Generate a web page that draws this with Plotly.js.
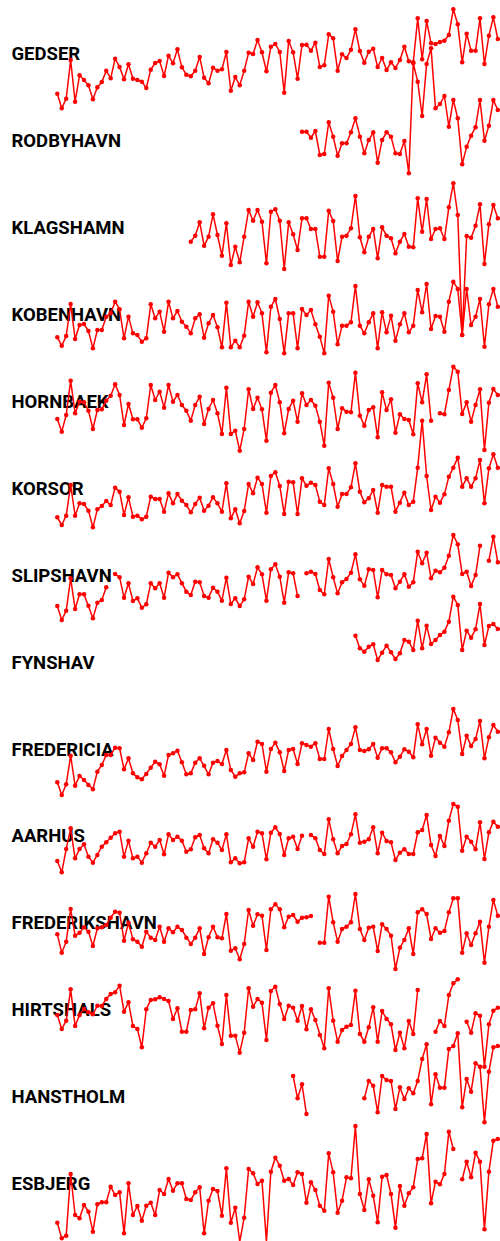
<!DOCTYPE html>
<html>
<head>
<meta charset="utf-8">
<script src="https://cdn.plot.ly/plotly-3.0.1.min.js"></script>
<style>html,body{margin:0;padding:0;background:#fff;}#chart{width:500px;height:1241px;}</style>
</head>
<body>
<div id="chart"></div>
<script>
// ---------- DATA (relative annual sea level, arbitrary units) ----------
const years = [1900,1901,1902,1903,1904,1905,1906,1907,1908,1909,
1910,1911,1912,1913,1914,1915,1916,1917,1918,1919,
1920,1921,1922,1923,1924,1925,1926,1927,1928,1929,
1930,1931,1932,1933,1934,1935,1936,1937,1938,1939,
1940,1941,1942,1943,1944,1945,1946,1947,1948,1949,
1950,1951,1952,1953,1954,1955,1956,1957,1958,1959,
1960,1961,1962,1963,1964,1965,1966,1967,1968,1969,
1970,1971,1972,1973,1974,1975,1976,1977,1978,1979,
1980,1981,1982,1983,1984,1985,1986,1987,1988,1989,
1990,1991,1992,1993,1994,1995,1996,1997,1998,1999];

const stations = ['GEDSER','RODBYHAVN','KLAGSHAMN','KOBENHAVN','HORNBAEK','KORSOR','SLIPSHAVN',
  'FYNSHAV','FREDERICIA','AARHUS','FREDERIKSHAVN','HIRTSHALS','HANSTHOLM','ESBJERG'];

const gedser = [-281,-325,-296,-180,-305,-226,-240,-256,-298,-262,
 -246,-212,-235,-176,-201,-238,-193,-236,-240,-245,
 -264,-209,-189,-183,-228,-167,-190,-148,-202,-224,
 -229,-212,-171,-233,-250,-203,-212,-208,-156,-272,
 -231,-256,-212,-158,-162,-120,-157,-214,-140,-132,
 -156,-278,-123,-157,-236,-135,-134,-152,-128,-201,
 -196,-103,-115,-212,-163,-174,-149,-88,-153,-188,
 -155,-146,-201,-174,-210,-187,-204,-180,-140,-184,
 -187,-55,-178,-63,-130,-132,-126,-122,-105,-28,
 -73,-187,-101,-152,-152,-55,-192,-107,-52,-117];

// from 1955
const rodbyhavn = [-395,-395,-413,-393,-465,
 -462,-367,-410,-467,-430,-430,-397,-355,-410,-460,
 -420,-397,-488,-420,-397,-410,-460,-462,-423,-520,
 -190,-245,-348,-192,-145,-325,-312,-288,-380,-300,
 -355,-493,-440,-407,-382,-300,-422,-377,-300,-330];

// from 1930
const klagshamn = [-200,-182,-142,-212,-185,-118,-180,-242,-145,-270,
 -215,-262,-185,-105,-137,-105,-140,-265,-110,-103,
 -137,-282,-142,-178,-225,-130,-130,-162,-162,-245,
 -245,-107,-138,-258,-185,-182,-160,-63,-187,-232,
 -185,-162,-250,-157,-182,-190,-235,-200,-177,-215,
 -217,-70,-170,-72,-192,-162,-160,-192,-97,-25,
 -120,-480,-183,-188,-152,-88,-267,-148,-90,-130];

const kobenhavn = [-487,-512,-483,-387,-492,-450,-447,-468,-520,-465,
 -465,-425,-415,-380,-403,-490,-425,-475,-480,-500,
 -490,-388,-430,-410,-470,-380,-430,-408,-440,-455,
 -475,-430,-418,-488,-445,-420,-457,-517,-383,-517,
 -497,-517,-482,-380,-425,-382,-415,-532,-395,-372,
 -432,-535,-415,-415,-520,-402,-420,-405,-448,-485,
 -535,-362,-410,-508,-452,-452,-442,-333,-452,-475,
 -442,-415,-520,-412,-472,-422,-497,-448,-415,-472,
 -452,-345,-412,-327,-462,-423,-425,-470,-380,-320,
 -342,-480,-342,-450,-425,-372,-515,-388,-342,-395];

const hornbaek = [-207,-245,-195,-92,-190,-155,-157,-182,-237,-180,
 -178,-152,-137,-103,-135,-225,-162,-208,-208,-233,
 -205,-105,-150,-125,-173,-105,-155,-135,-165,-182,
 -212,-165,-140,-222,-177,-150,-190,-252,-113,-252,
 -242,-302,-237,-118,-177,-143,-178,-272,-128,-105,
 -157,-250,-177,-152,-215,-130,-165,-150,-167,-215,
 -287,-98,-143,-237,-175,-185,-187,-68,-197,-227,
 -180,-172,-262,-127,-180,-148,-248,-193,-207,-210,
 -253,-100,-157,-73,-212,null,-190,-193,-120,-50,
 -65,-192,-157,-215,-165,-118,-300,-158,-117,-135];

const korsor = [-502,-525,-497,-405,-497,-460,-462,-482,-532,-478,
 -468,-453,-465,-413,-425,-495,-442,-500,-497,-508,
 -500,-440,-447,-447,-485,-430,-460,-432,-452,-465,
 -487,-462,-443,-482,-467,-442,-460,-485,-400,-505,
 -478,-520,-483,-402,-430,-383,-402,-488,-378,-367,
 -408,-492,-395,-397,-492,-385,-407,-398,-405,-455,
 -465,-355,-402,-470,-432,-432,-412,-340,-425,-457,
 -445,-420,-488,-405,-410,-410,-485,-458,-428,-465,
 -455,-353,-212,-378,-480,-440,-458,-433,-380,-353,
 -323,-410,-385,-410,-385,-330,-460,-355,-313,-353];

const slipshavn = [-243,-285,-257,-160,-252,-208,-208,-242,-280,-233,
 -225,-187,null,-147,-157,-218,-175,-228,-220,-248,
 -238,-175,-190,-175,-218,-143,-157,-148,-175,-200,
 -210,-170,-172,-213,-218,-188,-200,-227,-158,-237,
 -220,-243,-223,-155,-177,-127,-148,-227,-133,-118,
 -155,-233,-142,-145,-213,null,-145,-140,-147,-195,
 -208,-102,-157,-205,-172,-162,-143,-88,-163,-182,
 -133,-135,-217,-135,-148,-150,-190,-170,-148,-185,
 -172,-80,-115,-83,-160,-137,-142,-128,-92,-30,
 -58,-147,-140,-183,-150,-62,null,-107,-35,-112];

// from 1967
const fynshav = [-332,-370,-380,
 -365,-358,-405,-383,-362,-382,-402,-385,-345,-350,
 -375,-287,-370,-302,-357,-345,-330,-320,-290,-215,
 -240,-375,-317,-338,-313,-237,-360,-303,-297,-312];

const fredericia = [-247,-285,-253,-167,-257,-228,-240,-255,-268,-215,
 -195,-165,-165,-143,-145,-208,-175,-220,-232,-238,
 -222,-203,-185,-193,-227,-165,-160,-152,-187,-223,
 -220,-188,-175,-197,-223,-188,-183,-192,-150,-210,
 -230,-220,-217,-160,-180,-125,-132,-215,-147,-128,
 -157,-213,-150,-147,-192,-130,-135,-140,-130,-177,
 -177,-87,-147,-198,-168,-150,-132,-82,-150,-153,
 -148,-132,-173,-145,-145,-157,-187,-170,-148,-155,
 -172,-73,-133,-87,-167,-113,-128,-140,-97,-27,
 -60,-162,-107,-138,-117,-63,-175,-112,-75,-95];

const aarhus = [-483,-517,-447,-385,-475,-447,-433,-470,-488,-465,
 -440,-427,-413,-400,-395,-470,-422,-475,-470,-488,
 -460,-428,-440,-420,-463,-403,-420,-410,-422,-455,
 -448,-412,-405,-445,-460,-418,-428,-450,-403,-487,
 -475,-490,-487,-415,-440,-395,-400,-478,-398,-382,
 -402,-465,-415,-410,-447,-407,null,-405,-415,-450,
 -462,-358,-418,-460,-438,-432,-403,-343,-428,-425,
 -418,-382,-460,-398,-423,-427,-480,-458,-448,-462,
 -462,-397,-390,-345,-435,-468,-408,-438,-362,-312,
 -320,-452,-410,-425,-448,-367,-477,-397,-365,-380];

const frederikshavn = [-178,-233,-200,-102,-182,-173,-157,-170,-213,-160,
 -157,-150,-128,-110,-113,-197,-143,-193,-200,-215,
 -170,-188,-195,-155,-200,-160,-172,-155,-165,-188,
 -207,-188,-160,-237,-187,-155,-187,-190,-117,-227,
 -220,-253,-207,-105,-152,-118,-122,-225,-103,-88,
 -103,-157,-125,-120,-140,-128,-127,-123,null,-203,
 -203,-65,-142,-200,-162,-155,-142,-57,-162,-195,
 -158,-155,-228,-148,-162,-182,-282,-218,-195,-160,
 -237,-112,-103,-117,-192,-160,-173,-168,-112,-70,
 -70,-233,-175,-210,-175,-140,-263,-155,-75,-122];

const hirtshals = [-420,-462,-437,-343,-453,-420,-402,-412,-418,-392,
 -393,-372,-357,-352,-332,-410,-382,-453,-462,-517,
 -403,-375,-373,-367,-372,-378,-432,-400,-470,-470,
 -405,-403,-355,-460,-398,-385,-452,-507,-360,-482,
 -482,-533,-473,-340,-395,-372,-383,-495,-348,-335,
 -387,-432,-392,-398,-437,-393,-463,-403,-435,-480,
 -520,-340,-437,-500,-465,-455,-450,-347,-477,-500,
 -457,-397,-500,-408,-432,-448,-525,-473,-520,-438,
 -477,-345,null,null,null,-470,-438,-453,-360,-325,
 -313,null,-440,-473,-415,-422,-575,-448,-407,-398];

// from 1953
const hanstholm = [-78,-145,-103,-192,
 null,null,null,null,null,null,null,null,null,null,null,null,
 -145,-93,-107,-187,-78,-90,-93,-177,-112,-147,-115,
 -130,-93,-27,17,-163,-73,-113,-113,3,12,
 50,-172,-87,-125,-40,-50,-217,-65,8,12];

const esbjerg = [-518,-565,-557,-372,-495,-505,-465,-485,-545,-463,
 -457,-457,-410,-435,-427,-550,-400,-495,-468,-512,
 -467,-458,-495,-420,-432,-387,-422,-400,-400,-447,
 -450,-427,-412,-550,-452,-417,-423,-497,-355,-518,
 -473,-575,-503,-357,-370,-402,-392,-575,-365,-323,
 -347,-392,-387,-405,-367,-372,-458,-397,-420,-467,
 -482,-310,-367,-488,-452,-382,-385,-228,-432,-480,
 -388,-437,-517,-380,-375,-432,-533,-408,-467,-430,
 -412,-327,-325,-252,-460,-395,-403,-372,-245,-297,
 null,-388,-335,-382,-308,-335,-538,-365,-272,-267];

const seriesValues = [gedser, rodbyhavn, klagshamn, kobenhavn, hornbaek, korsor, slipshavn,
  fynshav, fredericia, aarhus, frederikshavn, hirtshals, hanstholm, esbjerg];

// ---------- LAYOUT / STYLE ----------
const W = 500, H = 1241;
const pxPerYear = 4.4495;          // horizontal scale
const firstYearPx = 57.3;          // pixel of first year
const xr0 = years[0] - firstYearPx / pxPerYear;
const xr1 = xr0 + W / pxPerYear;
const unitsPerPx = 3;              // vertical scale (value units per pixel)
const bandTop = [0,0,175,175,350,350,525,525,700,700,875,875,1050,1050]; // pixel reference per row
const labelTop = 55.3, labelStep = 86.95, labelLeftPx = 11.5;
const RED = '#ff0000';

const traces = [];
// labels first (drawn underneath the lines), on the base subplot in pixel units
traces.push({
  type: 'scatter', mode: 'text',
  x: stations.map(() => xr0 + labelLeftPx / pxPerYear),
  y: stations.map((_, k) => labelTop + labelStep * k),
  text: stations,
  textposition: 'middle right',
  textfont: {family: '"Liberation Sans Narrow", "Arial Narrow", "Roboto", sans-serif', size: 18.5, color: '#000', weight: 'bold'},
  xaxis: 'x', yaxis: 'y', hoverinfo: 'skip', cliponaxis: false
});

const layout = {
  width: W, height: H,
  margin: {l: 0, r: 0, t: 0, b: 0, pad: 0},
  paper_bgcolor: '#ffffff', plot_bgcolor: '#ffffff',
  showlegend: false,
  xaxis: {range: [xr0, xr1], visible: false, fixedrange: true},
  yaxis: {range: [H, 0], domain: [0, 1], visible: false, fixedrange: true}
};

seriesValues.forEach((vals, k) => {
  const ax = 'yaxis' + (k + 2);
  const top = bandTop[k] * unitsPerPx;
  layout[ax] = {
    range: [top - H * unitsPerPx, top],
    domain: [0, 1], overlaying: 'y', visible: false, fixedrange: true
  };
  traces.push({
    type: 'scatter', mode: 'lines+markers',
    name: stations[k],
    x: years.slice(years.length - vals.length),
    y: vals,
    xaxis: 'x', yaxis: 'y' + (k + 2),
    connectgaps: false,
    line: {color: RED, width: 1.5},
    marker: {color: RED, size: 4.5, symbol: 'circle'},
    hoverinfo: 'skip', cliponaxis: false
  });
});

Plotly.newPlot('chart', traces, layout, {staticPlot: true, displayModeBar: false});
</script>
</body>
</html>
